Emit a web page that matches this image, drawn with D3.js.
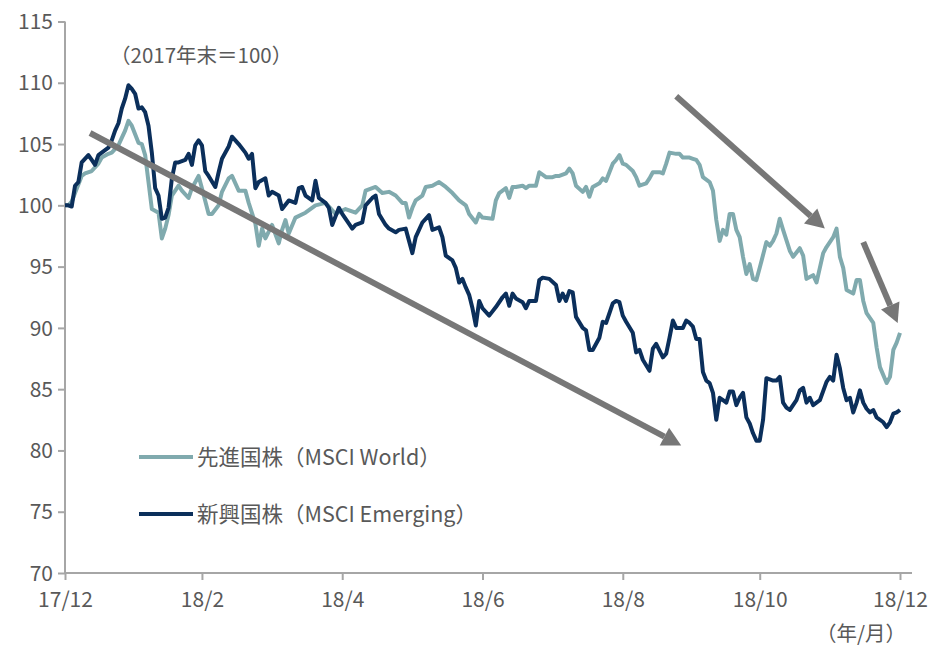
<!DOCTYPE html>
<html><head><meta charset="utf-8">
<script src="https://cdn.jsdelivr.net/npm/d3@7"></script>
<style>body{margin:0;background:#fff}svg{display:block}text{font-family:"Noto Sans CJK JP","Noto Sans",sans-serif;fill:#595959}</style>
</head><body><svg id="c" width="933" height="648"></svg>
<script>
// trading-day index (0 = 2017年末, 250 = 2018年12月)
const tickDays = [0, 41, 83, 125, 167, 208, 250];
const tickLabels = ["17/12", "18/2", "18/4", "18/6", "18/8", "18/10", "18/12"];
const yTicks = [70, 75, 80, 85, 90, 95, 100, 105, 110, 115];
const seriesNames = ["先進国株（MSCI World）", "新興国株（MSCI Emerging）"];

const worldDays = [0,1,2,3,5,6,8,10,11,13,14,16,17,18,19,20,22,23,24,25,26,28,29,30,31,32,34,35,37,38,40,41,43,44,46,47,49,50,52,54,55,57,58,59,60,62,64,65,66,67,69,72,75,78,81,84,87,89,90,93,95,97,99,101,102,103,104,105,107,108,110,112,114,116,118,120,121,123,124,125,128,129,130,132,133,134,135,137,138,139,141,142,144,146,147,148,150,151,152,153,155,156,157,158,160,161,162,163,164,165,166,167,168,170,171,172,174,175,176,178,179,180,181,183,184,185,187,188,189,190,191,193,194,195,196,197,198,199,200,201,202,203,204,205,206,207,208,210,211,212,213,214,215,217,218,220,221,222,224,225,226,227,228,230,231,232,233,234,236,237,238,239,240,242,243,244,246,247,248,249,250];
const worldValues = [100.0,100.0,100.3,101.0,102.4,102.6,102.8,103.4,103.9,104.2,104.3,104.9,105.5,106.1,106.9,106.5,105.1,105.0,104.1,101.9,99.7,99.4,97.3,98.1,99.2,100.8,101.6,101.2,100.6,101.4,102.4,101.4,99.3,99.3,100.0,101.1,102.2,102.4,101.2,101.2,100.2,98.5,96.7,98.1,97.3,98.4,96.9,98.0,98.8,97.7,99.0,99.4,100.0,100.2,99.3,99.7,99.4,100.0,101.2,101.5,101.0,101.1,100.8,100.2,100.2,99.0,99.8,100.4,100.8,101.5,101.6,101.9,101.5,101.0,100.4,100.0,99.3,98.6,99.3,99.0,98.9,100.4,101.0,101.4,100.6,101.5,101.5,101.6,101.4,101.6,101.6,102.7,102.3,102.3,102.4,102.4,102.6,103.0,102.6,101.6,101.1,101.5,100.7,101.5,101.8,102.2,102.0,102.7,103.4,103.7,104.1,103.4,103.3,102.8,102.3,101.6,101.8,102.2,102.7,102.7,102.6,103.4,104.3,104.2,104.2,103.9,103.9,103.8,103.7,103.3,102.3,101.9,101.2,98.8,97.1,98.0,97.6,99.3,99.3,98.0,97.4,95.8,94.4,95.2,94.0,93.9,94.9,97.0,96.7,97.1,97.7,98.9,98.0,96.3,95.8,96.5,95.9,94.0,94.3,93.7,94.9,96.1,96.6,97.4,98.1,95.8,94.9,93.1,92.8,93.9,93.9,92.2,91.2,90.4,88.4,86.8,85.5,86.0,88.2,88.8,89.6];

const emergingDays = [0,1,2,3,4,5,7,8,9,10,11,13,14,15,16,17,18,19,20,21,22,23,24,25,26,27,28,29,30,31,32,33,34,36,37,38,39,40,41,42,43,45,46,47,49,50,52,54,55,56,57,58,60,61,62,64,65,67,69,70,71,72,74,75,76,78,79,80,82,83,85,86,87,89,90,92,93,94,96,97,99,100,102,104,105,107,108,109,110,111,112,113,114,116,117,118,119,120,121,122,123,124,125,127,129,131,132,133,134,135,137,138,139,141,142,143,145,147,148,149,150,151,152,153,155,156,157,158,160,161,162,164,165,166,167,168,170,171,172,173,175,176,177,179,180,181,182,183,185,186,187,188,189,190,191,192,193,194,195,196,197,198,199,200,201,202,203,204,205,206,207,208,209,210,212,213,214,215,216,217,219,220,221,222,223,224,225,226,228,229,230,231,232,233,234,235,236,237,238,239,240,241,242,243,245,246,247,248,249,250];
const emergingValues = [100.0,100.0,99.9,101.6,101.9,103.5,104.1,103.7,103.3,104.1,104.3,104.7,105.3,106.1,106.7,107.9,108.7,109.8,109.5,109.1,107.9,108.0,107.6,106.5,104.3,101.4,100.8,98.9,99.0,99.8,102.2,103.5,103.5,103.7,104.2,103.3,104.9,105.3,104.9,102.8,102.4,101.5,102.7,103.8,104.8,105.6,105.0,104.3,103.8,104.2,101.4,101.9,102.2,100.8,101.1,100.8,99.7,100.4,100.2,101.4,101.5,100.8,100.4,102.0,100.6,100.2,99.8,98.4,99.8,99.3,98.5,98.1,98.4,98.6,100.0,100.6,100.8,99.3,98.4,98.1,97.8,98.0,98.1,96.1,97.4,98.6,98.9,99.2,98.0,98.1,98.2,97.4,95.9,95.5,94.9,93.7,94.0,93.3,92.7,91.6,90.2,92.2,91.6,91.0,91.7,92.5,92.8,91.8,92.8,92.4,92.1,91.6,92.2,92.2,93.9,94.1,94.0,93.5,92.2,92.8,92.2,93.0,92.9,90.9,90.0,89.8,88.2,88.2,89.2,90.5,90.4,92.0,92.2,92.1,91.0,90.5,89.6,88.0,88.2,87.4,86.5,88.3,88.7,87.6,87.9,89.2,90.6,90.0,90.0,90.6,90.4,90.1,89.1,89.1,86.4,85.7,85.5,84.7,82.5,84.3,84.1,83.9,84.8,84.8,83.7,84.3,84.7,82.7,82.2,81.4,80.8,80.8,82.5,85.9,85.7,85.7,86.0,83.9,83.5,83.3,84.1,84.9,85.1,83.9,84.3,83.7,83.9,84.1,85.6,86.0,85.7,87.8,86.7,85.1,84.1,84.3,83.1,83.9,84.9,83.9,83.4,83.1,83.3,82.7,82.3,81.9,82.3,83.0,83.1,83.3];

// annotation arrows in data units [day, value] -> [day, value]
const arrows = [
  [[7.5, 105.9], [184.5, 80.4]],
  [[183, 108.9], [227.5, 98.1]],
  [[239, 97.0], [249.3, 90.4]]
];

const colors = ["#80aaae", "#0b2f5b"];
const FONT = '"Noto Sans CJK JP","Noto Sans",sans-serif';
const svg = d3.select("#c");
const x = d3.scaleLinear().domain([0, 250]).range([65, 900]);
const y = d3.scaleLinear().domain([70, 115]).range([573, 21.5]);
const axisColor = "#a6a6a6";

// y axis
const ya = svg.append("g").attr("transform", "translate(65,0)")
  .call(d3.axisLeft(y).tickValues(yTicks).tickSize(7).tickPadding(5).tickFormat(d3.format("d")));
ya.select(".domain").attr("stroke", axisColor).attr("stroke-width", 2).attr("d", `M0,${y(115)}V${y(70)}`);
ya.selectAll(".tick line").attr("stroke", axisColor).attr("stroke-width", 2);
ya.selectAll(".tick text").attr("font-size", 21).attr("dy", "0.34em").style("fill", "#595959")
  .style("font-family", FONT);

// x axis
const xa = svg.append("g").attr("transform", `translate(0,${y(70)})`)
  .call(d3.axisBottom(x).tickValues(tickDays).tickSize(7).tickPadding(12).tickFormat((d, i) => tickLabels[i]));
xa.select(".domain").attr("stroke", axisColor).attr("stroke-width", 2).attr("d", `M65,0H912`);
xa.selectAll(".tick line").attr("stroke", axisColor).attr("stroke-width", 2);
xa.selectAll(".tick text").attr("font-size", 21).style("fill", "#595959")
  .style("font-family", FONT);

// lines
const line = d3.line().x(d => x(d[0])).y(d => y(d[1]));
const worldData = worldDays.map((d, i) => [d, worldValues[i]]);
const emergingData = emergingDays.map((d, i) => [d, emergingValues[i]]);
svg.append("path").datum(worldData).attr("d", line).attr("fill", "none")
  .attr("stroke", colors[0]).attr("stroke-width", 4).attr("stroke-linejoin", "round");
svg.append("path").datum(emergingData).attr("d", line).attr("fill", "none")
  .attr("stroke", colors[1]).attr("stroke-width", 4).attr("stroke-linejoin", "round");

// arrows
const arrowColor = "#777777";
arrows.forEach(a => {
  const x1 = x(a[0][0]), y1 = y(a[0][1]), x2 = x(a[1][0]), y2 = y(a[1][1]);
  const ang = Math.atan2(y2 - y1, x2 - x1);
  const hl = 19, hw = 10;
  const bx = x2 - hl * Math.cos(ang), by = y2 - hl * Math.sin(ang);
  svg.append("line").attr("x1", x1).attr("y1", y1).attr("x2", bx).attr("y2", by)
    .attr("stroke", arrowColor).attr("stroke-width", 6);
  const px = -Math.sin(ang), py = Math.cos(ang);
  svg.append("path").attr("fill", arrowColor)
    .attr("d", `M${x2},${y2}L${bx + hw * px},${by + hw * py}L${bx - hw * px},${by - hw * py}Z`);
});

// annotation
svg.append("text").attr("x", 110).attr("y", 63).attr("font-size", 20.5).text("（2017年末＝100）");
svg.append("text").attr("x", 906).attr("y", 641).attr("font-size", 20.5).attr("text-anchor", "end").text("（年/月）");

// legend
const lg = [[457, 0], [514, 1]];
lg.forEach(([ly, i]) => {
  svg.append("line").attr("x1", 139).attr("x2", 193).attr("y1", ly).attr("y2", ly)
    .attr("stroke", colors[i]).attr("stroke-width", 4);
  svg.append("text").attr("x", 197).attr("y", ly).attr("dy", "0.35em").attr("font-size", 21.5).text(seriesNames[i]);
});
</script></body></html>
